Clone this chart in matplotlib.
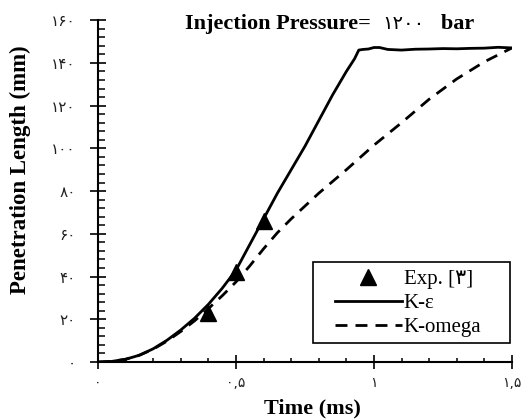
import matplotlib
matplotlib.use("Agg")
import matplotlib.pyplot as plt
from matplotlib.ticker import MultipleLocator, FixedLocator
from matplotlib.offsetbox import TextArea, HPacker, AnchoredOffsetbox
from matplotlib.patches import Rectangle

# K-epsilon (solid)
t_ke = [0, 0.05, 0.1, 0.15, 0.2, 0.25, 0.3, 0.35, 0.4, 0.45, 0.5, 0.55, 0.6, 0.65,
        0.7, 0.75, 0.8, 0.85, 0.9, 0.93, 0.945, 0.96, 0.98, 1.0, 1.02, 1.05, 1.1,
        1.15, 1.2, 1.25, 1.3, 1.35, 1.4, 1.45, 1.5]
v_ke = [0, 0.3, 1.3, 3.2, 6.2, 10.2, 15.0, 20.5, 27, 34.5, 43, 55, 67, 79,
        90, 101, 113, 125, 136, 142, 146, 146.3, 146.5, 147.2, 147.2, 146.3, 146,
        146.4, 146.5, 146.7, 146.6, 146.8, 146.9, 147.3, 147.0]

# K-omega (dashed)
t_kw = [0, 0.05, 0.1, 0.15, 0.2, 0.25, 0.3, 0.35, 0.4, 0.45, 0.5, 0.55, 0.6, 0.65,
        0.7, 0.75, 0.8, 0.9, 1.0, 1.1, 1.2, 1.3, 1.4, 1.5]
v_kw = [0, 0.3, 1.3, 3.2, 6.0, 9.8, 14.3, 19.3, 25, 31, 37.5, 45, 53, 60.5,
        67, 73, 79, 90, 101.5, 112, 123, 132.5, 140.5, 147]

# experiment
t_exp = [0.4, 0.5, 0.6]
v_exp = [23, 42, 66]

fa = "۰۱۲۳۴۵۶۷۸۹"
def fa_num(s):
    return "".join(fa[int(c)] if c.isdigit() else c for c in s)

xticks = [0, 0.5, 1.0, 1.5]
xlabels = [fa_num("0"), fa_num("0,5"), fa_num("1"), fa_num("1,5")]
yticks = list(range(0, 161, 20))
ylabels = [fa_num(str(v)) for v in yticks]

serif = ["Liberation Serif", "DejaVu Sans"]

fig = plt.figure(figsize=(5.24, 4.2), dpi=100)
ax = fig.add_axes([0.187, 0.138, 0.790, 0.814])

ax.plot(t_exp, v_exp, "^", color="black", markersize=12, label="Exp. [" + fa_num("3") + "]", zorder=3)
ax.plot(t_ke, v_ke, "-", color="black", lw=2.0, label="K-ε")
ax.plot(t_kw, v_kw, "--", color="black", lw=2.0, dashes=(4.3, 2.9), label="K-omega")

ax.set_xlim(0, 1.5)
ax.set_ylim(0, 160)
ax.spines["top"].set_visible(False)
ax.spines["right"].set_visible(False)
ax.spines["left"].set_linewidth(1.5)
ax.spines["bottom"].set_linewidth(1.5)

ax.xaxis.set_major_locator(FixedLocator(xticks))
ax.set_xticklabels(xlabels, fontsize=10, family="DejaVu Sans", color="#222222")
ax.xaxis.set_minor_locator(MultipleLocator(0.1))
ax.yaxis.set_major_locator(FixedLocator(yticks))
ax.set_yticklabels(ylabels, fontsize=11, family="DejaVu Sans", color="#222222")
ax.yaxis.set_minor_locator(MultipleLocator(4))

ax.tick_params(axis="x", which="major", direction="inout", length=9.5, width=1.2, pad=5)
ax.tick_params(axis="x", which="minor", direction="in", length=3, width=1.1)
ax.tick_params(axis="y", which="major", direction="inout", length=12, width=1.2, pad=10)
ax.tick_params(axis="y", which="minor", direction="in", length=5, width=1.1)

ax.set_xlabel("Time (ms)", fontsize=16, fontweight="bold", family=serif)
ax.xaxis.label.set_verticalalignment("center")
ax.xaxis.set_label_coords(0.519, -0.1345)
ax.set_ylabel("Penetration Length (mm)", fontsize=16.5, fontweight="bold", family=serif)
ax.yaxis.label.set_verticalalignment("center")
ax.yaxis.set_label_coords(-0.187, 0.564)

# title inside the axes, digits lighter than the bold words
title_parts = [
    TextArea("Injection Pressure=  ", textprops=dict(fontsize=16, fontweight="bold", family=serif)),
    TextArea(fa_num("1200"), textprops=dict(fontsize=14, family="DejaVu Sans")),
    TextArea("   bar", textprops=dict(fontsize=16, fontweight="bold", family=serif)),
]
title_box = HPacker(children=title_parts, align="baseline", pad=0, sep=0)
ax.add_artist(AnchoredOffsetbox(loc="upper left", child=title_box, pad=0, borderpad=0,
                                frameon=False, bbox_to_anchor=(0.21, 1.017),
                                bbox_transform=ax.transAxes))

# legend box
ax.add_patch(Rectangle((0.519, 0.0556), 0.476, 0.236, transform=ax.transAxes,
                       facecolor="white", edgecolor="black", lw=1.2, zorder=4))
leg = ax.legend(loc="center left", bbox_to_anchor=(0.5725, 0.172), borderaxespad=0,
                prop={"family": serif, "size": 15}, frameon=False,
                handlelength=3.2, handletextpad=0.1, labelspacing=0.22, borderpad=0)
leg.set_zorder(5)

fig.savefig("out.png", dpi=100)
